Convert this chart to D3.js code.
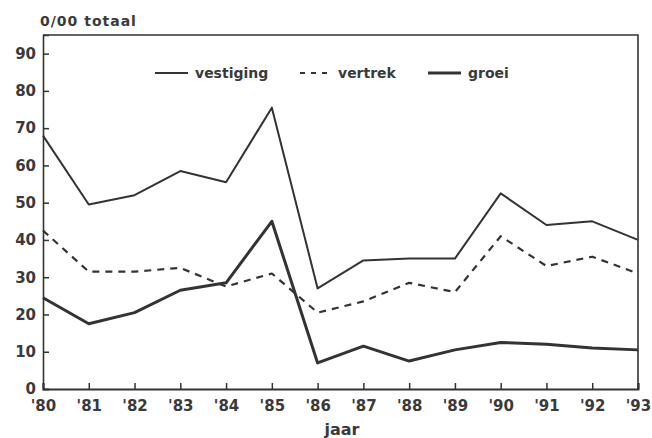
<!DOCTYPE html>
<html>
<head>
<meta charset="utf-8">
<script src="https://cdn.jsdelivr.net/npm/d3@7"></script>
<style>
  body { margin: 0; background: #fff; }
  text { font-family: "DejaVu Sans", sans-serif; font-weight: bold; fill: #3a3a3a; }
</style>
</head>
<body>
<div id="chart"></div>
<script>
// years on the x axis
const years = ["'80", "'81", "'82", "'83", "'84", "'85", "'86", "'87", "'88", "'89", "'90", "'91", "'92", "'93"];
const vestiging = [68, 49.5, 52, 58.5, 55.5, 75.5, 27, 34.5, 35, 35, 52.5, 44, 45, 40];
const vertrek = [42.5, 31.5, 31.5, 32.5, 27.5, 31, 20.5, 23.5, 28.5, 26, 41, 33, 35.5, 31];
const groei = [24.5, 17.5, 20.5, 26.5, 28.5, 45, 7, 11.5, 7.5, 10.5, 12.5, 12, 11, 10.5];
const yTicks = [0, 10, 20, 30, 40, 50, 60, 70, 80, 90];

const width = 652, height = 438;
const margin = { top: 35, right: 14, bottom: 49, left: 43 };

const svg = d3.select('#chart')
    .append('svg')
    .attr('width', width)
    .attr('height', height);

const x = d3.scalePoint()
    .domain(years)
    .range([margin.left, width - margin.right]);

const y = d3.scaleLinear()
    .domain([0, 95])
    .range([height - margin.bottom, margin.top]);

const ink = '#333';

// frame: top and right border
svg.append('path')
    .attr('d', `M${margin.left},${margin.top}H${width - margin.right}V${height - margin.bottom}`)
    .attr('fill', 'none')
    .attr('stroke', ink)
    .attr('stroke-width', 1.6);

// y axis
const yAxis = svg.append('g')
    .attr('transform', `translate(${margin.left},0)`)
    .call(d3.axisLeft(y).tickValues(yTicks).tickSize(-6).tickPadding(7));
yAxis.select('.domain').attr('stroke', ink).attr('stroke-width', 1.6);
yAxis.selectAll('.tick line').attr('stroke', ink).attr('stroke-width', 1.5);
yAxis.selectAll('.tick text')
    .style('font-size', '15px')
    .attr('fill', '#3a3a3a');

// x axis
const xAxis = svg.append('g')
    .attr('transform', `translate(0,${height - margin.bottom})`)
    .call(d3.axisBottom(x).tickSize(-6).tickPadding(11));
xAxis.select('.domain').attr('stroke', ink).attr('stroke-width', 2);
xAxis.selectAll('.tick line').attr('stroke', ink).attr('stroke-width', 1.5);
xAxis.selectAll('.tick text')
    .style('font-size', '15px')
    .attr('fill', '#3a3a3a');

// axis titles
svg.append('text')
    .attr('x', 40)
    .attr('y', 26)
    .style('font-size', '14px')
    .style('letter-spacing', '1px')
    .text('0/00 totaal');

svg.append('text')
    .attr('x', 342)
    .attr('y', 435)
    .attr('text-anchor', 'middle')
    .style('font-size', '16px')
    .text('jaar');

// series lines
const series = [
    { name: 'vestiging', values: vestiging, width: 2, dash: null },
    { name: 'vertrek', values: vertrek, width: 2.2, dash: '7,6' },
    { name: 'groei', values: groei, width: 3, dash: null }
];

const line = d3.line()
    .x((d, i) => x(years[i]))
    .y((d) => y(d));

svg.append('g')
    .selectAll('path')
    .data(series)
    .enter()
    .append('path')
    .attr('d', (d) => line(d.values))
    .attr('fill', 'none')
    .attr('stroke', ink)
    .attr('stroke-width', (d) => d.width)
    .attr('stroke-dasharray', (d) => d.dash)
    .attr('stroke-linejoin', 'round');

// legend
const legendPos = [155, 300, 428];
const legend = svg.append('g')
    .selectAll('g')
    .data(series)
    .enter()
    .append('g')
    .attr('transform', (d, i) => `translate(${legendPos[i]},73)`);

legend.append('line')
    .attr('x1', 0)
    .attr('x2', (d, i) => (i === 1 ? 27 : 33))
    .attr('stroke', ink)
    .attr('stroke-width', (d) => d.width)
    .attr('stroke-dasharray', (d) => (d.dash ? '5,6' : null));

legend.append('text')
    .attr('x', (d, i) => (i === 1 ? 38 : 40))
    .attr('y', 5)
    .style('font-size', '14px')
    .text((d) => d.name);
</script>
</body>
</html>
